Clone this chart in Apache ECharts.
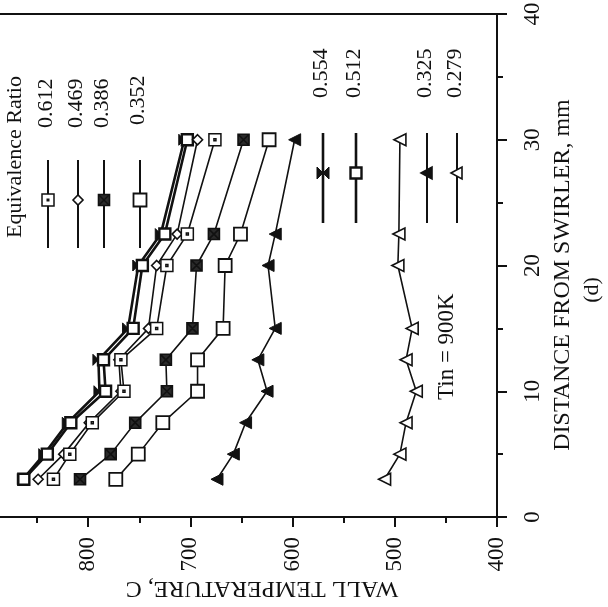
<!DOCTYPE html>
<html><head><meta charset="utf-8">
<script src="https://cdn.jsdelivr.net/npm/echarts@6/dist/echarts.min.js"></script>
<style>html,body{margin:0;padding:0;background:#fff}#c{width:608px;height:607px}</style>
</head><body><div id="c"></div>
<script>
// Distance from swirler (mm) and wall temperature (C) for each equivalence ratio
const distance = [3, 5, 7.5, 10, 12.5, 15, 20, 22.5, 30];
const phi554 = [864, 843, 820, 789, 790, 761, 751, 729, 706];
const phi512 = [863, 840, 817, 783, 785, 756, 747, 725, 703];
const phi469 = [849, 824, 799, 768, 770, 741, 733, 713, 693];
const phi612 = [834, 818, 796, 765, 768, 733, 723, 703, 676];
const phi386 = [808, 778, 754, 723, 724, 698, 694, 677, 648];
const phi352 = [773, 751, 727, 693, 693, 668, 666, 651, 623];
const phi325 = [674, 658, 646, 625, 634, 617, 624, 617, 598];
const phi279 = [510, 495, 489, 479, 489, 483, 497, 496, 495];
const legendLeftNames = ['0.612', '0.469', '0.386', '0.352'];
const legendRightNames = ['0.554', '0.512', '0.325', '0.279'];
const legendTitle = 'Equivalence Ratio';
const noteText = 'Tin = 900K';
const xName = 'WALL TEMPERATURE, C';
const yName = 'DISTANCE FROM SWIRLER, mm';
const panel = '(d)';

const FONT = '"Liberation Serif", "DejaVu Serif", serif';
const INK = '#111';
const XFILL = '#2a2a2a';
const chart = echarts.init(document.getElementById('c'), null, {renderer: 'canvas'});

const SYM = {
  bowtie: 'path://M0,0L10,10L10,0L0,10Z',
  dotsq: 'path://M0,0H12V12H0Z M5,5H7V7H5Z',
  xsq: 'path://M0,0H10V10H0Z M0,0L10,10 M10,0L0,10'
};

function mk(name, temps, symbol, size, fill, bw, rot, lw) {
  return {
    name, type: 'line', animation: false, showAllSymbol: true,
    data: temps.map((t, i) => [t, distance[i]]),
    symbol, symbolSize: size, symbolRotate: rot,
    lineStyle: {color: INK, width: lw},
    itemStyle: {color: fill, borderColor: INK, borderWidth: bw},
    emphasis: {disabled: true}
  };
}

const series = [
  mk('0.554', phi554, SYM.bowtie, 11, INK, 1, 0, 2.6),
  mk('0.512', phi512, 'rect', 11, '#fff', 2.4, 0, 2.6),
  mk('0.469', phi469, 'diamond', [10, 10], '#fff', 1.6, 0, 1.6),
  mk('0.612', phi612, SYM.dotsq, 12, '#fff', 1.5, 0, 1.6),
  mk('0.386', phi386, SYM.xsq, 11, XFILL, 1.6, 0, 1.6),
  mk('0.352', phi352, 'rect', 13, '#fff', 1.8, 0, 1.6),
  mk('0.325', phi325, 'triangle', 12, INK, 1, 90, 1.6),
  mk('0.279', phi279, 'triangle', 12, '#fff', 1.6, 90, 1.6)
];

// ---- legend drawn as graphics (rotated figure) ----
const g = [];
function text(str, x, y, rot, align, size) {
  g.push({type: 'text', x, y, rotation: rot, z: 10,
    style: {text: str, x: 0, y: 0, font: size + 'px ' + FONT, fill: INK, align, verticalAlign: 'middle'}});
}
function marker(kind, cx, cy) {
  const s = 6;
  if (kind === 'dotsq') {
    g.push({type: 'rect', z: 11, shape: {x: cx - s, y: cy - s, width: 2 * s, height: 2 * s}, style: {fill: '#fff', stroke: INK, lineWidth: 1.5}});
    g.push({type: 'rect', z: 12, shape: {x: cx - 1.5, y: cy - 1.5, width: 3, height: 3}, style: {fill: INK}});
  } else if (kind === 'diamond') {
    g.push({type: 'polygon', z: 11, shape: {points: [[cx - 5, cy], [cx, cy - 5], [cx + 5, cy], [cx, cy + 5]]}, style: {fill: '#fff', stroke: INK, lineWidth: 1.6}});
  } else if (kind === 'xsq') {
    g.push({type: 'rect', z: 11, shape: {x: cx - 5.5, y: cy - 5.5, width: 11, height: 11}, style: {fill: XFILL, stroke: INK, lineWidth: 1.6}});
    g.push({type: 'line', z: 12, shape: {x1: cx - 5.5, y1: cy - 5.5, x2: cx + 5.5, y2: cy + 5.5}, style: {stroke: INK, lineWidth: 1.5}});
    g.push({type: 'line', z: 12, shape: {x1: cx + 5.5, y1: cy - 5.5, x2: cx - 5.5, y2: cy + 5.5}, style: {stroke: INK, lineWidth: 1.5}});
  } else if (kind === 'sq') {
    g.push({type: 'rect', z: 11, shape: {x: cx - 6.5, y: cy - 6.5, width: 13, height: 13}, style: {fill: '#fff', stroke: INK, lineWidth: 1.8}});
  } else if (kind === 'boldsq') {
    g.push({type: 'rect', z: 11, shape: {x: cx - 5.5, y: cy - 5.5, width: 11, height: 11}, style: {fill: '#fff', stroke: INK, lineWidth: 2.4}});
  } else if (kind === 'bowtie') {
    g.push({type: 'polygon', z: 11, shape: {points: [[cx - 6, cy - 6], [cx + 6, cy + 6], [cx + 6, cy - 6], [cx - 6, cy + 6]]}, style: {fill: INK, stroke: INK, lineWidth: 1}});
  } else if (kind === 'tri' || kind === 'otri') {
    g.push({type: 'polygon', z: 11, shape: {points: [[cx - 6, cy], [cx + 5, cy - 6], [cx + 5, cy + 6]]}, style: {fill: kind === 'tri' ? INK : '#fff', stroke: INK, lineWidth: 1.6}});
  }
}
function entry(name, kind, x, y1, y2, ym, labelY, lw) {
  g.push({type: 'line', z: 10, shape: {x1: x, y1: y1, x2: x, y2: y2}, style: {stroke: INK, lineWidth: lw}});
  marker(kind, x, ym);
  text(name, x - 2, labelY, Math.PI / 2, 'left', 22);
}
text(legendTitle, 15, 238, Math.PI / 2, 'left', 22);
const leftKinds = ['dotsq', 'diamond', 'xsq', 'sq'];
const leftX = [48, 78, 104, 140];
legendLeftNames.forEach((n, i) => entry(n, leftKinds[i], leftX[i], 160, 248, 200, i === 3 ? 125 : 128, 2));
const rightKinds = ['bowtie', 'boldsq', 'tri', 'otri'];
const rightX = [323, 356, 427, 457];
legendRightNames.forEach((n, i) => entry(n, rightKinds[i], rightX[i], 133, 223, 173, 98, i < 2 ? 2.6 : 2));
text(noteText, 447, 400, Math.PI / 2, 'left', 23);
text(xName, 262, 588, Math.PI, 'center', 24);
text(yName, 563, 275, Math.PI / 2, 'center', 24);
text(panel, 592, 290, Math.PI / 2, 'center', 22);

const axisCommon = {
  axisLine: {show: true, onZero: false, lineStyle: {color: INK, width: 2}},
  axisTick: {show: true, length: 10, lineStyle: {color: INK, width: 2}},
  minorTick: {show: true, splitNumber: 2, length: 6, lineStyle: {color: INK, width: 2}},
  splitLine: {show: false},
  minorSplitLine: {show: false}
};

chart.setOption({
  backgroundColor: '#fff',
  animation: false,
  grid: {left: -14, right: 111, top: 14, bottom: 90, containLabel: false, outerBoundsMode: 'none',
    show: true, borderColor: INK, borderWidth: 2, backgroundColor: 'transparent'},
  xAxis: Object.assign({type: 'value', min: 400, max: 900, interval: 100, inverse: true, position: 'bottom',
    axisLabel: {rotate: 90, margin: 20, fontFamily: FONT, fontSize: 23, color: INK}}, axisCommon),
  yAxis: Object.assign({type: 'value', min: 0, max: 40, interval: 10, position: 'right',
    axisLabel: {rotate: 90, margin: 24, fontFamily: FONT, fontSize: 23, color: INK}}, axisCommon),
  series,
  graphic: g
});
</script>
</body></html>
